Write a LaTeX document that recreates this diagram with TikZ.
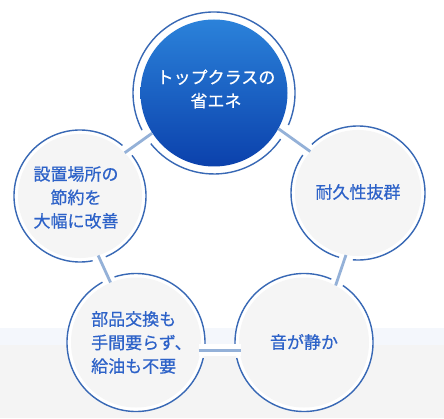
\documentclass[tikz,border=0pt]{standalone}
\usepackage{fontspec}
\newfontfamily\jp[FakeBold=0.6]{Noto Sans CJK JP}
\definecolor{bandblue}{HTML}{F4F7FC}
\definecolor{bggray}{HTML}{F4F4F4}
\definecolor{cfill}{HTML}{F5F5F5}
\definecolor{ringblue}{HTML}{3868B5}
\definecolor{connblue}{HTML}{94B1D8}
\definecolor{txtblue}{HTML}{2D62C8}
\definecolor{topblue}{HTML}{2B82DA}
\definecolor{botblue}{HTML}{0B41AC}
\newcommand\gapring[6]{%
  \draw[ring] (#1,#2) ++(#4+#6:#3pt) arc[start angle=#4+#6, end angle=#5-#6, radius=#3pt];
  \draw[ring] (#1,#2) ++(#5+#6:#3pt) arc[start angle=#5+#6, end angle=#4+360-#6, radius=#3pt];}
\tikzset{
  ring/.style={draw=ringblue, line width=1.4pt},
  conn/.style={draw=connblue, line width=2.8pt},
  gcirc/.style={circle, fill=cfill, inner sep=0pt, draw=none},
  lbl/.style={text=txtblue, font=\jp\fontsize{17}{23.5}\selectfont, align=center, inner sep=0pt},
}
\begin{document}
\begin{tikzpicture}[x=1pt,y=1pt]
\useasboundingbox (0,0) rectangle (444,418);
% background
\fill[white] (0,90) rectangle (444,418);
\fill[bandblue] (0,73) rectangle (444,90);
\fill[bggray] (0,0) rectangle (444,73);
% white underlays
\fill[white] (80,222) circle[radius=66pt];
\fill[white] (358,225) circle[radius=67pt];
\fill[white] (136,75.5) circle[radius=69pt];
\fill[white] (304,75.5) circle[radius=69pt];
% fills
\node[circle, inner sep=0pt, minimum size=147pt, top color=topblue, bottom color=botblue, draw=none] (T) at (214,325) {};
\node[gcirc, minimum size=124pt] (L) at (80,222) {};
\node[gcirc, minimum size=126pt] (R) at (358,225) {};
\node[gcirc, minimum size=130pt] (BL) at (136,75.5) {};
\node[gcirc, minimum size=130pt] (BR) at (304,75.5) {};
% rings with gaps
\gapring{214}{325}{81}{213}{331}{5.7}
\gapring{80}{222}{66}{44}{287}{6}
\gapring{358}{225}{67}{139.5}{259.6}{6}
\gapring{136}{75.5}{69}{113.6}{352.5}{5.5}
\gapring{304}{75.5}{69}{61.2}{187.5}{5.5}
% connectors
\draw[conn] (L.44) -- (T.213);
\draw[conn] (T.331) -- (R.139.5);
\draw[conn] (L.287) -- (BL.113.6);
\draw[conn] (R.259.6) -- (BR.61.2);
\draw[white, line width=12pt, shorten <=-2pt, shorten >=-2pt] (BL.-7.5) -- (BR.187.5);
\draw[conn, line width=2.4pt, shorten <=-2pt, shorten >=-2pt] (BL.-7.5) -- (BR.187.5);
% labels
\node[lbl, text=white] (Tt) at (216,329) {トップクラスの\\省エネ};
\node[lbl] (Lt) at (76,220.5) {設置場所の\\節約を\\大幅に改善};
\node[lbl] (Rt) at (358,226) {耐久性抜群};
\node[lbl, align=left, anchor=west] (BLt) at (91,75.5) {部品交換も\\手間要らず、\\給油も不要};
\node[lbl] (BRt) at (304,76) {音が静か};
\end{tikzpicture}
\end{document}
